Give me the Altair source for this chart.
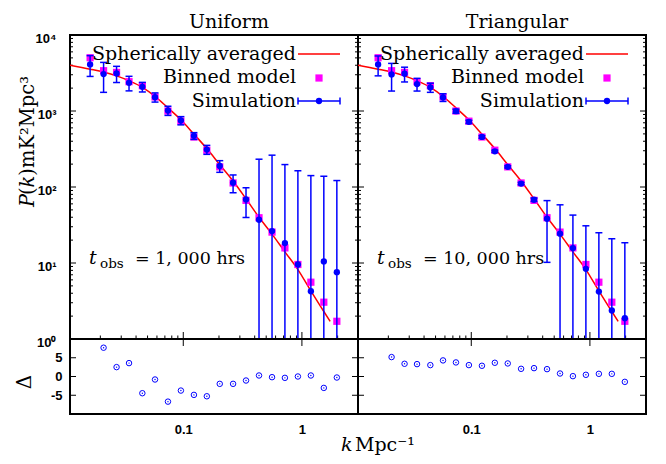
import altair as alt
import pandas as pd

# ---------------- data ----------------
k_bins = [0.0164, 0.0213, 0.0274, 0.0349, 0.0452, 0.0578, 0.0743, 0.0955, 0.123, 0.158,
          0.203, 0.263, 0.338, 0.435, 0.560, 0.719, 0.925, 1.19, 1.53, 1.97]
binned_model = [5020, 3390, 3220, 2430, 2150, 1530, 1000, 735, 455, 305,
                184, 113, 66.7, 39.4, 25.5, 15.8, 9.56, 5.59, 3.05, 1.71]
sim_uniform = [4100, 3060, 3120, 2350, 2080, 1520, 1015, 750, 471, 311,
               189, 114, 68.7, 37.1, 26.3, 18.3, 9.56, 4.25, 10.5, 7.57]
err_uniform = [1250, 1300, 750, 510, 300, 210, 140, 93, 48, 42,
               33, 30, 29, 195, 236, 179, 154, 137, 128, 114]
sim_triangular = [4100, 3030, 3090, 2260, 2040, 1510, 995, 720, 456, 295,
                  184, 111, 68.0, 38.2, 24.3, 15.7, 8.37, 4.21, 2.37, 1.88]
err_triangular = [1200, 1200, 680, 430, 280, 175, 60, 35, 18, 10,
                  6, 4, 3.5, 28, 34, 27, 22.5, 20.8, 18.5, 16.6]
resid_k = k_bins[1:]
resid_uniform = [7.68, 2.5, 3.57, -4.46, -0.8, -6.7, -3.75, -4.9, -5.27, -1.96,
                 -1.96, -1.07, 0.27, -0.18, -0.36, 0.0, 0.27, -3.04, -0.27]
resid_triangular = [5.18, 3.39, 3.3, 3.04, 4.29, 3.75, 3.04, 2.86, 3.66, 3.48,
                    2.05, 2.23, 1.96, 0.8, 0.09, 0.45, 0.71, 0.71, -1.43]
sph_k = [0.0111, 0.0164, 0.0213, 0.0274, 0.0349, 0.0452, 0.0578, 0.0743, 0.0955, 0.123,
         0.158, 0.203, 0.263, 0.338, 0.435, 0.560, 0.719, 0.925, 1.19, 1.53, 1.73]
sph_P = [4000, 3550, 3250, 2900, 2500, 2050, 1560, 1100, 766, 496,
         320, 197, 120, 70, 40, 24, 14, 8.2, 4.3, 2.3, 1.71]

panel_titles = ["Uniform", "Triangular"]
tobs_values = ["= 1, 000 hrs", "= 10, 000 hrs"]
legend_labels = ["Spherically averaged", "Binned model", "Simulation"]
ytitle_parts = ["P", "(", "k", ")mK\u00b2Mpc\u00b3"]
ytitle_italic = [True, False, True, False]
xtitle_parts = ["k", "Mpc\u207b\u00b9"]
resid_title = ["\u0394"]

major_y = [1, 10, 100, 1000, 10000]
minor_y = [m * 10 ** e for e in range(4) for m in range(2, 10)]
major_x = [0.1, 1]
minor_x = [m / 100 for m in range(2, 10)] + [m / 10 for m in range(2, 10)] + [2]
resid_ticks = [-5, 0, 5]

# ---------------- style ----------------
W, HT, HB = 288, 304, 75
BLUE, MAG, RED = "#0000ff", "#ff00ff", "#ff0000"
SERIF = "DejaVu Serif"
SANS = "Liberation Sans"

xscale = alt.Scale(type="log", domain=[0.0111, 2.97], nice=False)
ytop = alt.Scale(type="log", domain=[1, 10000], nice=False)
ybot = alt.Scale(type="linear", domain=[-10, 10], nice=False, zero=False)

sup = "['\u2070','\u00b9','\u00b2','\u00b3','\u2074']"
ytop_axis = alt.Axis(values=major_y, labelExpr="'10' + " + sup + "[round(log(datum.value)/LN10)]",
                     ticks=False, tickSize=0, domain=False, grid=False, title=None,
                     labelFont=SANS, labelFontWeight="bold", labelFontSize=13,
                     labelColor="black", labelPadding=14, labelOffset=3)
ybot_axis = alt.Axis(values=resid_ticks, labelExpr="'' + datum.value",
                     ticks=False, tickSize=0, domain=False, grid=False, title=None,
                     labelFont=SANS, labelFontWeight="bold", labelFontSize=13,
                     labelColor="black", labelPadding=8)
xbot_axis = alt.Axis(values=major_x, format="~g", ticks=False, tickSize=0, domain=False,
                     grid=False, title=None, labelFont=SANS, labelFontWeight="bold",
                     labelFontSize=13, labelColor="black", labelPadding=9)


def one(v):
    return pd.DataFrame({"t": [v]})


def text_layer(txt, x, y, size, italic=False, align="left", angle=0, baseline="alphabetic", font=SERIF):
    kw = dict(font=font, fontSize=size, align=align, baseline=baseline, color="black")
    if italic:
        kw["fontStyle"] = "italic"
    if angle:
        kw["angle"] = angle
    return alt.Chart(one(txt)).mark_text(**kw).encode(
        x=alt.value(x), y=alt.value(y), text="t:N")


def top_panel(i, sim, err, show_axis):
    yax = ytop_axis if show_axis else None

    def Y(f):
        return alt.Y(f + ":Q", scale=ytop, axis=yax)

    def X(f):
        return alt.X(f + ":Q", scale=xscale, axis=None)

    pts = pd.DataFrame({"k": k_bins, "model": binned_model, "sim": sim, "err": err})
    pts["hi"] = pts["sim"] + pts["err"]
    pts["lo"] = (pts["sim"] - pts["err"]).clip(lower=0.05)
    sph = pd.DataFrame({"k": sph_k, "P": sph_P})

    layers = []
    for vals, ln in ((major_y, 6), (minor_y, 3)):
        df = pd.DataFrame({"v": vals})
        layers.append(alt.Chart(df).mark_rule(color="black", strokeWidth=1).encode(
            y=Y("v"), x=alt.value(0), x2=alt.value(ln)))
        layers.append(alt.Chart(df).mark_rule(color="black", strokeWidth=1).encode(
            y=Y("v"), x=alt.value(W), x2=alt.value(W - ln)))
    for vals, ln in ((major_x, 7), (minor_x, 3.5)):
        df = pd.DataFrame({"v": vals})
        layers.append(alt.Chart(df).mark_rule(color="black", strokeWidth=1).encode(
            x=X("v"), y=alt.value(HT), y2=alt.value(HT - ln)))

    layers.append(alt.Chart(sph).mark_line(color=RED, strokeWidth=1.5, clip=True,
                                           interpolate="monotone").encode(x=X("k"), y=Y("P")))
    layers.append(alt.Chart(pts).mark_point(shape="square", filled=True, size=52, color=MAG,
                                            opacity=1).encode(x=X("k"), y=Y("model")))
    layers.append(alt.Chart(pts).mark_rule(color=BLUE, strokeWidth=1.5, clip=True).encode(
        x=X("k"), y=Y("lo"), y2=alt.Y2("hi")))
    for f in ("hi", "lo"):
        layers.append(alt.Chart(pts).mark_tick(orient="horizontal", size=7, thickness=1.5,
                                               color=BLUE, opacity=1, clip=True).encode(
            x=X("k"), y=Y(f)))
    layers.append(alt.Chart(pts).mark_point(shape="circle", filled=True, size=40, color=BLUE,
                                            opacity=1).encode(x=X("k"), y=Y("sim")))

    # legend (gnuplot style: label, then sample)
    ly = [25, 48.4, 71.7]
    for j, lab in enumerate(legend_labels):
        layers.append(text_layer(lab, 226, ly[j], 19, align="right"))
    layers.append(alt.Chart(one(legend_labels[0])).mark_rule(color=RED, strokeWidth=1.5).encode(
        x=alt.value(228), x2=alt.value(270), y=alt.value(19)))
    layers.append(alt.Chart(one(legend_labels[1])).mark_point(shape="square", filled=True, size=52,
                                                              color=MAG, opacity=1).encode(
        x=alt.value(249), y=alt.value(43)))
    layers.append(alt.Chart(one(legend_labels[2])).mark_rule(color=BLUE, strokeWidth=1.5).encode(
        x=alt.value(228), x2=alt.value(270), y=alt.value(66)))
    for xx in (228, 270):
        layers.append(alt.Chart(one(legend_labels[2])).mark_rule(color=BLUE, strokeWidth=1.5).encode(
            x=alt.value(xx), y=alt.value(62.5), y2=alt.value(69.5)))
    layers.append(alt.Chart(one(legend_labels[2])).mark_point(shape="circle", filled=True, size=40,
                                                              color=BLUE, opacity=1).encode(
        x=alt.value(249), y=alt.value(66)))

    # annotation t_obs
    layers.append(text_layer("t", 19, 229, 19, italic=True))
    layers.append(text_layer("obs", 30, 232.5, 13.5))
    layers.append(text_layer(tobs_values[i], 65, 229, 17.5))

    # panel title
    layers.append(text_layer(panel_titles[i], W / 2 + 15, -7, 19, align="center"))

    if show_axis:
        ys = [172, 160, 152.4, 140.7]
        for part, it, yy in zip(ytitle_parts, ytitle_italic, ys):
            layers.append(text_layer(part, -36.5, yy, 19.5, italic=it, angle=270))

    return alt.layer(*layers).properties(width=W, height=HT)


def bot_panel(i, resid, show_axis):
    yax = ybot_axis if show_axis else None

    def Y(f):
        return alt.Y(f + ":Q", scale=ybot, axis=yax)

    def X(f):
        return alt.X(f + ":Q", scale=xscale, axis=xbot_axis)

    res = pd.DataFrame({"k": resid_k, "d": resid})
    layers = []
    df = pd.DataFrame({"v": resid_ticks})
    layers.append(alt.Chart(df).mark_rule(color="black", strokeWidth=1).encode(
        y=Y("v"), x=alt.value(0), x2=alt.value(6)))
    layers.append(alt.Chart(df).mark_rule(color="black", strokeWidth=1).encode(
        y=Y("v"), x=alt.value(W), x2=alt.value(W - 6)))
    dfx = pd.DataFrame({"v": major_x})
    layers.append(alt.Chart(dfx).mark_rule(color="black", strokeWidth=1).encode(
        x=X("v"), y=alt.value(0), y2=alt.value(7)))
    layers.append(alt.Chart(res).mark_point(shape="circle", filled=False, size=30, strokeWidth=1,
                                            color=BLUE, opacity=1).encode(x=X("k"), y=Y("d")))
    layers.append(alt.Chart(res).mark_point(shape="circle", filled=True, size=2,
                                            color=BLUE, opacity=1).encode(x=X("k"), y=Y("d")))
    if show_axis:
        layers.append(text_layer(resid_title[0], -45.5, 43, 20, angle=270, align="center",
                                 baseline="middle"))
    else:
        layers.append(text_layer(xtitle_parts[0], -17, 112, 19, italic=True))
        layers.append(text_layer(xtitle_parts[1], -3, 112, 19))
    return alt.layer(*layers).properties(width=W, height=HB)


chart = alt.concat(
    top_panel(0, sim_uniform, err_uniform, True),
    top_panel(1, sim_triangular, err_triangular, False),
    bot_panel(0, resid_uniform, True),
    bot_panel(1, resid_triangular, False),
    columns=2, spacing=0, bounds="flush",
).properties(
    padding={"left": 5, "top": 4, "right": 2, "bottom": 0},
    background="white",
).configure_view(stroke="black", strokeWidth=2).configure_axis(grid=False)

chart.save("out.html", embed_options={"renderer": "svg", "actions": False})
